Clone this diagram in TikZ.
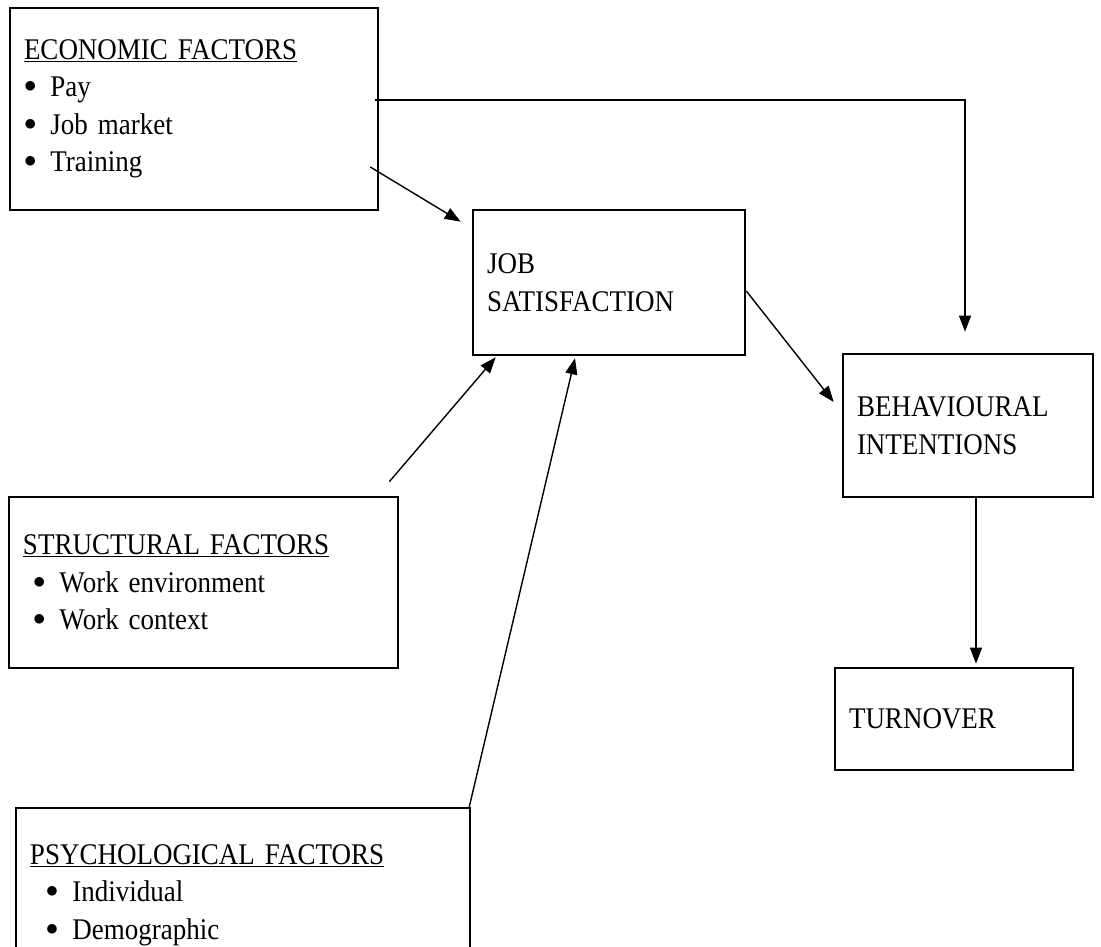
\documentclass[tikz,border=0pt]{standalone}
\usepackage{fontspec}
\setmainfont{Liberation Serif}[FakeStretch=0.9,WordSpace=0.8]
\usetikzlibrary{arrows.meta}
\newcommand{\bul}{\raisebox{4pt}{$\bullet$}}

\begin{document}
\begin{tikzpicture}[x=1pt,y=-1pt]
\tikzset{b style/.style = {draw, line width=2.6pt, rectangle, inner xsep=14pt, inner ysep=0pt,
  align=left, font=\fontsize{30}{37.5}\selectfont},
  a style/.style = {line width=1.4pt, -{Triangle[length=16pt,width=12pt]}}}
\clip (0,0) rectangle (1101,947);
\node[b style, text width=340pt, minimum height=202pt] (econ) at (194,109)
  {\underline{ECONOMIC FACTORS}\\
   \hspace*{0pt}\bul\hspace{14pt}Pay\\
   \hspace*{0pt}\bul\hspace{14pt}Job market\\
   \hspace*{0pt}\bul\hspace{14pt}Training};
\node[b style, text width=244pt, minimum height=145pt] (job) at (609,282.5)
  {JOB\\SATISFACTION};
\node[b style, text width=222pt, minimum height=143pt] (behav) at (968,425.5)
  {BEHAVIOURAL\\INTENTIONS};
\node[b style, text width=210pt, minimum height=102pt] (turn) at (954,719)
  {TURNOVER};
\node[b style, text width=361pt, minimum height=171pt] (struct) at (203.5,582.5)
  {\underline{STRUCTURAL FACTORS}\\
   \hspace*{10pt}\bul\hspace{14pt}Work environment\\
   \hspace*{10pt}\bul\hspace{14pt}Work context};
\node[b style, text width=426pt, minimum height=174pt] (psych) at (243,895)
  {\underline{PSYCHOLOGICAL FACTORS}\\
   \hspace*{16pt}\bul\hspace{14pt}Individual\\
   \hspace*{16pt}\bul\hspace{14pt}Demographic};
% links
\draw[a style] ([shift={(-4pt,9pt)}]econ.east) -| ([shift={(-3pt,21pt)}]behav.north);
\draw[a style] ([shift={(-9pt,-58pt)}]econ.east) -- ([shift={(-11pt,-13pt)}]job.north west);
\draw[a style] ([yshift=-8.5pt]job.east) -- ([shift={(-8pt,23.5pt)}]behav.west);
\draw[a style] ([shift={(-10pt,14pt)}]struct.north east) -- ([shift={(24pt,-1pt)}]job.south west);
\draw[a style] ([xshift=-2pt]psych.north east) -- ([shift={(-34pt,-2pt)}]job.south);
\draw[a style] ([xshift=8pt]behav.south) -- ([shift={(22pt,3pt)}]turn.north);
\end{tikzpicture}
\end{document}
